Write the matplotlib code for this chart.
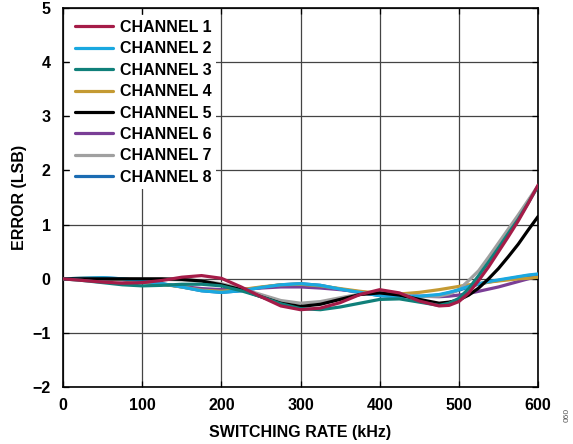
import matplotlib
matplotlib.use("Agg")
import matplotlib.pyplot as plt

plt.rcParams['font.family'] = ['Liberation Sans', 'DejaVu Sans']
plt.rcParams['font.weight'] = 'bold'

rate_khz = [0, 25, 50, 75, 100, 125, 150, 175, 200, 225, 250, 275, 300,
            325, 350, 375, 400, 425, 450, 475, 487.5, 500, 512.5, 525, 537.5,
            550, 562.5, 575, 587.5, 600]

ch1 = [0, -0.03, -0.06, -0.08, -0.07, -0.03, 0.03, 0.06, 0.01, -0.15, -0.33, -0.50, -0.57,
       -0.54, -0.44, -0.29, -0.20, -0.26, -0.41, -0.50, -0.49, -0.42, -0.26, -0.03, 0.22,
       0.50, 0.78, 1.07, 1.39, 1.73]
ch2 = [0, 0.01, 0.02, 0.0, -0.04, -0.09, -0.15, -0.22, -0.25, -0.22, -0.16, -0.11, -0.09,
       -0.12, -0.19, -0.25, -0.31, -0.33, -0.32, -0.29, -0.25, -0.20, -0.14, -0.09, -0.05,
       -0.02, 0.01, 0.04, 0.07, 0.09]
ch3 = [0, -0.03, -0.07, -0.11, -0.13, -0.12, -0.10, -0.10, -0.13, -0.22, -0.33, -0.46, -0.55,
       -0.57, -0.52, -0.45, -0.38, -0.37, -0.43, -0.49, -0.45, -0.36, -0.18, 0.06, 0.31,
       0.57, 0.84, 1.10, 1.40, 1.71]
ch4 = [0, 0.01, 0.01, -0.01, -0.05, -0.10, -0.15, -0.21, -0.23, -0.20, -0.15, -0.11, -0.10,
       -0.13, -0.18, -0.23, -0.27, -0.28, -0.25, -0.20, -0.17, -0.14, -0.11, -0.09, -0.06,
       -0.04, -0.02, 0.0, 0.01, 0.03]
ch5 = [0, 0.0, 0.0, 0.0, 0.0, 0.0, -0.01, -0.04, -0.11, -0.20, -0.33, -0.45, -0.51,
       -0.47, -0.38, -0.29, -0.26, -0.30, -0.38, -0.45, -0.43, -0.39, -0.30, -0.17, 0.0,
       0.19, 0.41, 0.64, 0.90, 1.15]
ch6 = [0, 0.0, 0.0, -0.02, -0.06, -0.10, -0.14, -0.18, -0.20, -0.19, -0.17, -0.15, -0.15,
       -0.17, -0.20, -0.24, -0.28, -0.30, -0.32, -0.33, -0.32, -0.30, -0.27, -0.23, -0.19,
       -0.15, -0.10, -0.05, 0.0, 0.05]
ch7 = [0, 0.0, 0.0, 0.0, -0.01, -0.01, -0.02, -0.04, -0.09, -0.18, -0.29, -0.40, -0.45,
       -0.42, -0.35, -0.28, -0.25, -0.28, -0.33, -0.32, -0.28, -0.20, -0.03, 0.15, 0.40,
       0.66, 0.92, 1.18, 1.45, 1.72]
ch8 = [0, 0.01, 0.02, 0.0, -0.04, -0.09, -0.15, -0.22, -0.25, -0.22, -0.16, -0.11, -0.09,
       -0.12, -0.19, -0.25, -0.31, -0.33, -0.33, -0.30, -0.26, -0.21, -0.15, -0.10, -0.06,
       -0.03, 0.0, 0.03, 0.06, 0.08]

labels = ['CHANNEL 1', 'CHANNEL 2', 'CHANNEL 3', 'CHANNEL 4',
          'CHANNEL 5', 'CHANNEL 6', 'CHANNEL 7', 'CHANNEL 8']
series = [ch1, ch2, ch3, ch4, ch5, ch6, ch7, ch8]
colors = ['#A51C48', '#1AA8E0', '#10807A', '#C49A33', '#000000', '#7A3E96', '#A0A0A0', '#1B6CB3']
zorders = [10, 7, 9, 5, 8, 4, 6, 3]

x_ticks = [0, 100, 200, 300, 400, 500, 600]
y_ticks = [-2, -1, 0, 1, 2, 3, 4, 5]

fig = plt.figure(figsize=(5.73, 4.44), dpi=100)
ax = fig.add_axes([0.110, 0.128, 0.829, 0.854])

for y, lab, c, z in zip(series, labels, colors, zorders):
    ax.plot(rate_khz, y, color=c, lw=2.3, label=lab, zorder=z,
            solid_capstyle='round', solid_joinstyle='round')

ax.set_xlim(0, 600)
ax.set_ylim(-2, 5)
ax.set_xticks(x_ticks)
ax.set_yticks(y_ticks)
ax.grid(True, color='#444444', lw=0.9)
ax.set_axisbelow(True)
ax.tick_params(direction='in', length=4, labelsize=11.5, top=True, right=True, width=0.9)
ax.tick_params(axis='x', pad=7.5)
ax.tick_params(axis='y', pad=9)
for lab in ax.get_xticklabels() + ax.get_yticklabels():
    lab.set_fontweight('bold')
for s in ax.spines.values():
    s.set_linewidth(1.2)

ax.set_xlabel('SWITCHING RATE (kHz)', fontsize=11.5, fontweight='bold', labelpad=9)
ax.set_ylabel('ERROR (LSB)', fontsize=11.5, fontweight='bold', labelpad=3.5)

leg = ax.legend(loc='upper left', fontsize=11.5, frameon=True, framealpha=1,
                facecolor='white', edgecolor='none', handlelength=2.35,
                labelspacing=0.40, borderaxespad=0.45, handletextpad=0.45,
                borderpad=0.3, fancybox=False)
leg.set_zorder(20)
for t in leg.get_texts():
    t.set_fontweight('bold')

fig.text(0.99, 0.065, '060', rotation=90, fontsize=6, color='#555555',
         ha='center', va='center', fontweight='normal')

fig.savefig('out.png', dpi=100)
